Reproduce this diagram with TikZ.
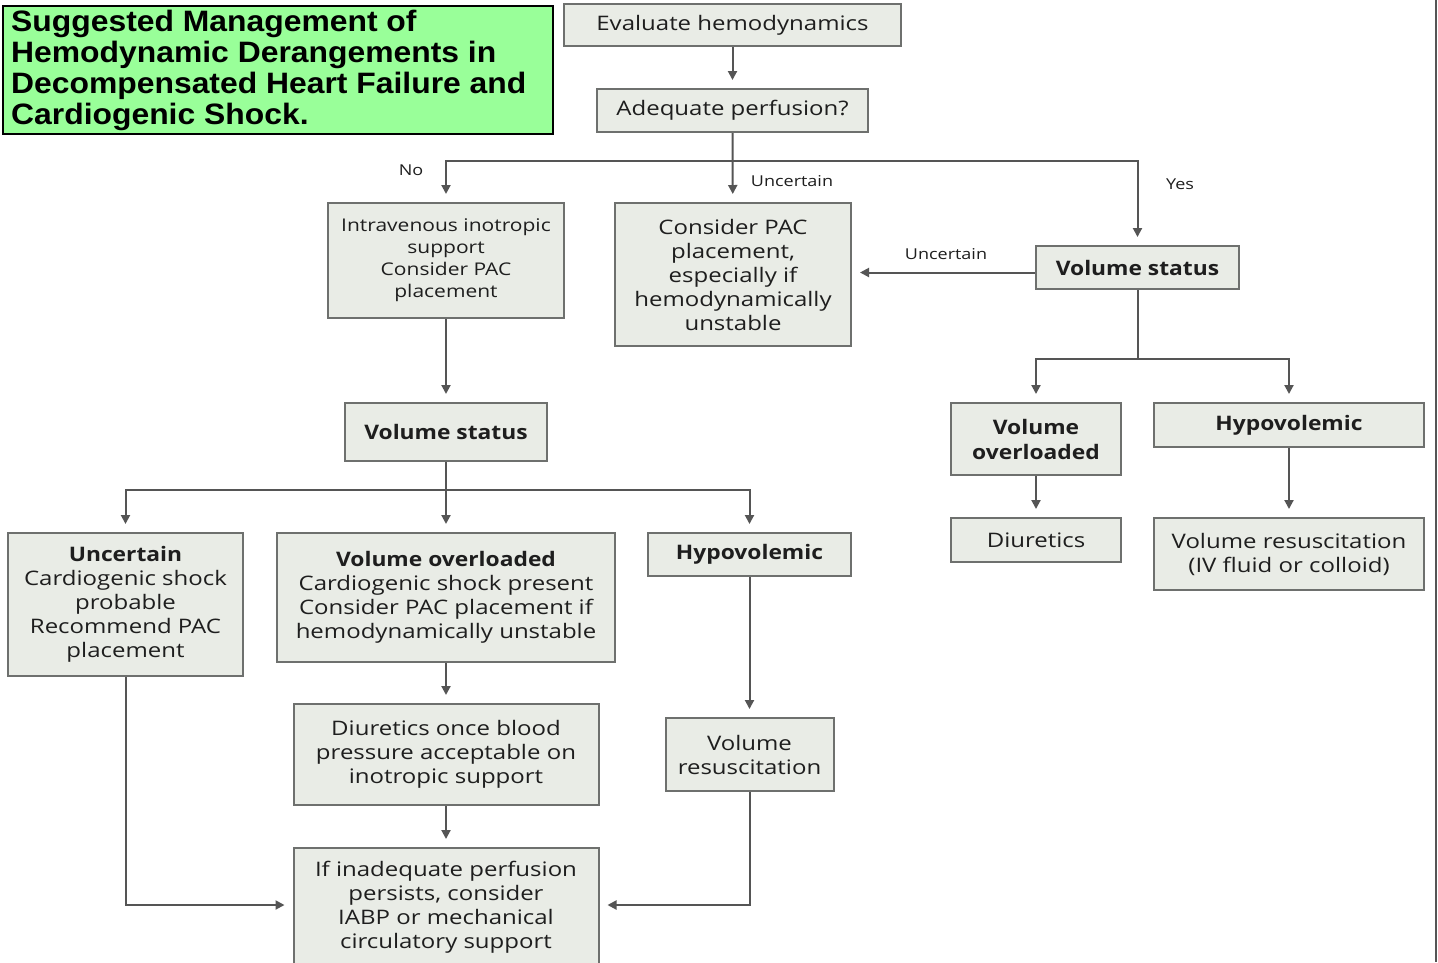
\documentclass[tikz,border=0pt]{standalone}
\usepackage{fontspec}
\setmainfont{Open Sans}[FakeStretch=1.2, BoldFeatures={FakeStretch=1.14}]
\newfontfamily\titlefont{Liberation Sans}[FakeStretch=1.08]
\usetikzlibrary{arrows.meta}
\definecolor{boxfill}{RGB}{233,236,230}
\definecolor{boxline}{RGB}{110,112,110}
\definecolor{linecol}{RGB}{85,85,85}
\definecolor{txt}{RGB}{30,30,30}
\definecolor{titlefill}{RGB}{153,255,153}
\begin{document}
\begin{tikzpicture}[x=1pt,y=-1pt,
  box/.style={draw=boxline, fill=boxfill, line width=2pt, inner sep=0pt, align=center, text=txt, font=\fontsize{20}{24}\selectfont},
  smallbox/.style={box, font=\fontsize{17.5}{22}\selectfont},
  boldbox/.style={box, font=\fontsize{20}{25}\selectfont\bfseries},
  arr/.style={-{Triangle[width=9pt,length=9pt]}, line width=2pt, draw=linecol, shorten >=8pt},
  ln/.style={line width=2pt, draw=linecol},
  lbl/.style={text=txt, font=\fontsize{15}{18}\selectfont, inner sep=0pt}]
\useasboundingbox (0,0) rectangle (1438,962);
\fill[white] (0,0) rectangle (1438,962);
% title
\node[draw=black, line width=1.5pt, fill=titlefill, minimum width=550pt, minimum height=128pt, inner sep=0pt] (titlebox) at (278,70) {};
\node[anchor=north west, inner sep=0pt, align=left, font=\titlefont\fontsize{29.5}{31}\selectfont\bfseries] (title) at (11,10) {Suggested Management of\\Hemodynamic Derangements in\\Decompensated Heart Failure and\\Cardiogenic Shock.};
% top boxes
\node[box, minimum width=337pt, minimum height=42pt] (eval) at (732.5,25) {Evaluate hemodynamics};
\node[box, minimum width=271pt, minimum height=43pt] (adeq) at (732.5,110.5) {Adequate perfusion?};
\node[smallbox, minimum width=236pt, minimum height=115pt] (iv) at (446,260.5) {Intravenous inotropic\\support\\Consider PAC\\placement};
\node[box, minimum width=236pt, minimum height=143pt] (pac) at (733,274.5) {Consider PAC\\placement,\\especially if\\hemodynamically\\unstable};
\node[boldbox, minimum width=203pt, minimum height=43pt] (vsr) at (1137.5,267.5) {Volume status};
% right side
\node[boldbox, minimum width=170pt, minimum height=72pt] (vor) at (1036,439) {Volume\\overloaded};
\node[boldbox, minimum width=270pt, minimum height=44pt] (hypr) at (1289,425) {Hypovolemic};
\node[box, minimum width=170pt, minimum height=44pt] (diur) at (1036,540) {Diuretics};
\node[box, minimum width=270pt, minimum height=72pt] (vresr) at (1289,554) {Volume resuscitation\\(IV fluid or colloid)};
% left side
\node[boldbox, minimum width=202pt, minimum height=58pt] (vsl) at (446,432) {Volume status};
\node[box, minimum width=235pt, minimum height=143pt] (unc) at (125.5,604.5) {\textbf{Uncertain}\\Cardiogenic shock\\probable\\Recommend PAC\\placement};
\node[box, minimum width=338pt, minimum height=129pt] (vol) at (446,597.5) {\textbf{Volume overloaded}\\Cardiogenic shock present\\Consider PAC placement if\\hemodynamically unstable};
\node[boldbox, minimum width=203pt, minimum height=43pt] (hyp) at (749.5,554.5) {Hypovolemic};
\node[box, minimum width=305pt, minimum height=101pt] (diu2) at (446,754.5) {Diuretics once blood\\pressure acceptable on\\inotropic support};
\node[box, minimum width=168pt, minimum height=73pt] (vres) at (749.5,754.5) {Volume\\resuscitation};
\node[box, minimum width=305pt, minimum height=118pt] (final) at (446,907) {If inadequate perfusion\\persists, consider\\IABP or mechanical\\circulatory support};
% junctions
\coordinate (b1) at (733,161);
\coordinate (b2) at (1137.5,359);
\coordinate (b3) at (446,490);
% connectors
\draw[arr] (eval) -- (adeq);
\draw[arr] (adeq) -- (pac);
\draw[arr] (b1) -| (iv);
\draw[arr] (b1) -| (vsr);
\draw[arr] ([yshift=-5pt]vsr.west) -- ([yshift=-5pt]vsr.west -| pac.east);
\draw[ln] (vsr) -- (b2);
\draw[arr] (b2) -| (vor);
\draw[arr] (b2) -| (hypr);
\draw[arr] (vor) -- (diur);
\draw[arr] (hypr) -- (vresr);
\draw[arr] (iv) -- (vsl);
\draw[ln] (vsl) -- (b3);
\draw[arr] (b3) -| (unc);
\draw[arr] (b3) -- (vol);
\draw[arr] (b3) -| (hyp);
\draw[arr] (vol) -- (diu2);
\draw[arr] (hyp) -- (vres);
\draw[arr] (diu2) -- (final);
\draw[arr] (unc.south) |- ([yshift=2pt]final.west);
\draw[arr] (vres.south) |- ([yshift=2pt]final.east);
% labels
\node[lbl] (lno) at (411,170) {No};
\node[lbl] (lunc1) at (792,181) {Uncertain};
\node[lbl] (lyes) at (1180,184) {Yes};
\node[lbl] (lunc2) at (946,254) {Uncertain};
% right edge line
\draw[line width=1.5pt, draw=linecol] (1436,0) -- (1436,962);
\end{tikzpicture}
\end{document}
